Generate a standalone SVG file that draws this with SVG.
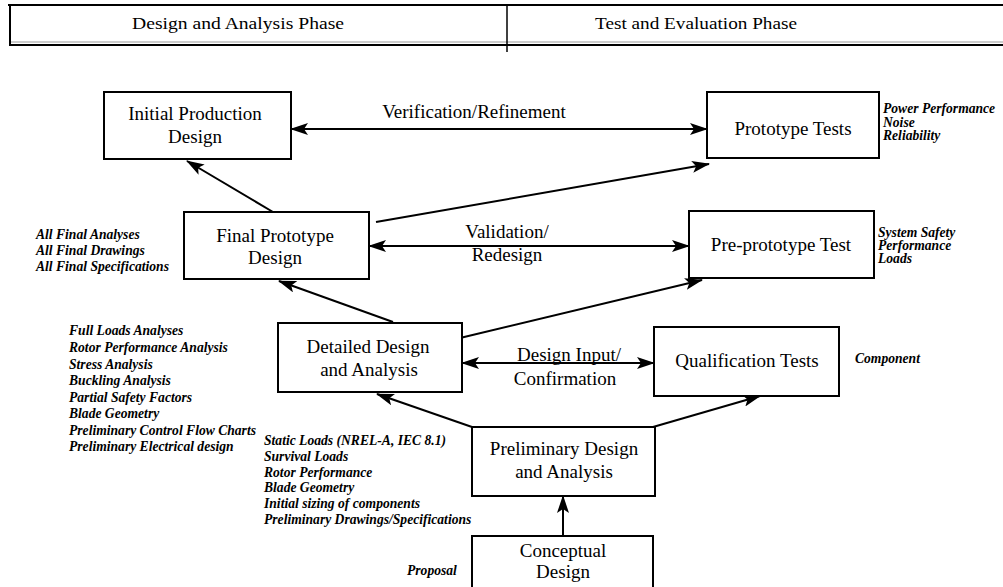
<svg xmlns="http://www.w3.org/2000/svg" width="1003" height="587" viewBox="0 0 1003 587">
<defs>
<style>
.box{fill:#fff;stroke:#000;stroke-width:2}
.t{font-family:'Liberation Serif','Times New Roman',serif;font-size:19px;fill:#000;text-anchor:middle}
.h{font-family:'Liberation Serif','Times New Roman',serif;font-size:17px;fill:#000;text-anchor:middle}
.n{font-family:'Liberation Serif','Times New Roman',serif;font-size:13.6px;font-style:italic;font-weight:bold;fill:#000}
.c{stroke:#000;stroke-width:2;fill:none}
.hl{stroke:#000;stroke-width:2}
</style>
<marker id="ah" markerUnits="userSpaceOnUse" markerWidth="18" markerHeight="12" viewBox="0 0 18 12" refX="17" refY="6" orient="auto-start-reverse">
<path d="M0,0 L18,6 L0,12 L4,6 z" fill="#000"/>
</marker>
</defs>

<g id="header">
<line class="hl" x1="8" y1="5" x2="1003" y2="5"/>
<line x1="10" y1="42" x2="1003" y2="42" stroke="#999" stroke-width="1"/>
<line class="hl" x1="9" y1="45" x2="1003" y2="45"/>
<line class="hl" x1="10" y1="5" x2="10" y2="45"/>
<line x1="507" y1="5" x2="507" y2="52" stroke="#000" stroke-width="1.5"/>
<text class="h" x="238" y="29" textLength="212" lengthAdjust="spacingAndGlyphs">Design and Analysis Phase</text>
<text class="h" x="696" y="29" textLength="202" lengthAdjust="spacingAndGlyphs">Test and Evaluation Phase</text>
</g>

<g id="connectors">
<line class="c" x1="291" y1="129" x2="707" y2="129" marker-start="url(#ah)" marker-end="url(#ah)"/>
<line class="c" x1="376" y1="222" x2="709" y2="164" marker-end="url(#ah)"/>
<line class="c" x1="273" y1="212" x2="187" y2="161" marker-end="url(#ah)"/>
<line class="c" x1="369" y1="246" x2="689" y2="246" marker-start="url(#ah)" marker-end="url(#ah)"/>
<line class="c" x1="460" y1="338" x2="702" y2="280" marker-end="url(#ah)"/>
<line class="c" x1="393" y1="322" x2="279" y2="281" marker-end="url(#ah)"/>
<line class="c" x1="462" y1="363" x2="654" y2="363" marker-start="url(#ah)" marker-end="url(#ah)"/>
<line class="c" x1="472" y1="427" x2="377" y2="394" marker-end="url(#ah)"/>
<line class="c" x1="653" y1="427" x2="760" y2="396" marker-end="url(#ah)"/>
<line class="c" x1="563" y1="536" x2="563" y2="496" marker-end="url(#ah)"/>
<text class="t" x="474" y="118">Verification/Refinement</text>
<text class="t" x="507" y="238">Validation/</text>
<text class="t" x="507" y="261">Redesign</text>
<text class="t" x="569" y="361">Design Input/</text>
<text class="t" x="565" y="385">Confirmation</text>
</g>

<g id="initial-production-design">
<rect class="box" x="104" y="92" width="187" height="67"/>
<text class="t" x="195" y="120">Initial Production</text>
<text class="t" x="195" y="143">Design</text>
</g>

<g id="prototype-tests">
<rect class="box" x="707" y="92" width="172" height="66"/>
<text class="t" x="793" y="135">Prototype Tests</text>
<text class="n" x="883" y="113">Power Performance</text>
<text class="n" x="883" y="127">Noise</text>
<text class="n" x="883" y="140">Reliability</text>
</g>

<g id="final-prototype-design">
<rect class="box" x="184" y="212" width="185" height="67"/>
<text class="t" x="275" y="242">Final Prototype</text>
<text class="t" x="275" y="264">Design</text>
<text class="n" x="36" y="239">All Final Analyses</text>
<text class="n" x="36" y="255">All Final Drawings</text>
<text class="n" x="36" y="271">All Final Specifications</text>
</g>

<g id="pre-prototype-test">
<rect class="box" x="689" y="211" width="185" height="67"/>
<text class="t" x="781" y="251">Pre-prototype Test</text>
<text class="n" x="878" y="237">System Safety</text>
<text class="n" x="878" y="250">Performance</text>
<text class="n" x="878" y="263">Loads</text>
</g>

<g id="detailed-design-and-analysis">
<rect class="box" x="278" y="323" width="184" height="69"/>
<text class="t" x="368" y="353">Detailed Design</text>
<text class="t" x="369" y="376">and Analysis</text>
<text class="n" x="69" y="335">Full Loads Analyses</text>
<text class="n" x="69" y="352">Rotor Performance Analysis</text>
<text class="n" x="69" y="369">Stress Analysis</text>
<text class="n" x="69" y="385">Buckling Analysis</text>
<text class="n" x="69" y="402">Partial Safety Factors</text>
<text class="n" x="69" y="418">Blade Geometry</text>
<text class="n" x="69" y="435">Preliminary Control Flow Charts</text>
<text class="n" x="69" y="451">Preliminary Electrical design</text>
</g>

<g id="qualification-tests">
<rect class="box" x="654" y="327" width="185" height="69"/>
<text class="t" x="747" y="367">Qualification Tests</text>
<text class="n" x="855" y="363">Component</text>
</g>

<g id="preliminary-design-and-analysis">
<rect class="box" x="472" y="427" width="183" height="69"/>
<text class="t" x="564" y="455">Preliminary Design</text>
<text class="t" x="564" y="478">and Analysis</text>
<text class="n" x="264" y="445">Static Loads (NREL-A, IEC 8.1)</text>
<text class="n" x="264" y="461">Survival Loads</text>
<text class="n" x="264" y="477">Rotor Performance</text>
<text class="n" x="264" y="492">Blade Geometry</text>
<text class="n" x="264" y="508">Initial sizing of components</text>
<text class="n" x="264" y="524">Preliminary Drawings/Specifications</text>
</g>

<g id="conceptual-design">
<rect class="box" x="472" y="536" width="181" height="60"/>
<text class="t" x="563" y="557">Conceptual</text>
<text class="t" x="563" y="578">Design</text>
<text class="n" x="407" y="575">Proposal</text>
</g>
</svg>
